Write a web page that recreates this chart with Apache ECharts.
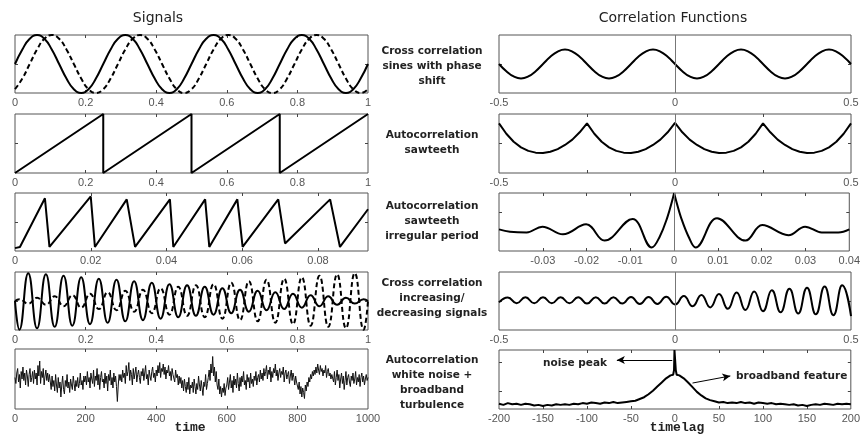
<!DOCTYPE html>
<html><head><meta charset="utf-8">
<script src="https://cdn.jsdelivr.net/npm/echarts@6/dist/echarts.min.js"></script>
<style>html,body{margin:0;padding:0;background:#fff}#c{width:863px;height:437px}</style>
</head><body><div id="c"></div>
<script>
// ---------- DATA ----------
// Row 1 left: sines with phase shift (x step 1/48 from 0 to 1)
const sineStep = 1 / 48;
const sineSolid = [0,0.5,0.87,1,0.87,0.5,0,-0.5,-0.87,-1,-0.87,-0.5,
  0,0.5,0.87,1,0.87,0.5,0,-0.5,-0.87,-1,-0.87,-0.5,
  0,0.5,0.87,1,0.87,0.5,0,-0.5,-0.87,-1,-0.87,-0.5,
  0,0.5,0.87,1,0.87,0.5,0,-0.5,-0.87,-1,-0.87,-0.5, 0];
const sineDashed = [-0.87,-0.5,0,0.5,0.87,1,0.87,0.5,0,-0.5,-0.87,-1,
  -0.87,-0.5,0,0.5,0.87,1,0.87,0.5,0,-0.5,-0.87,-1,
  -0.87,-0.5,0,0.5,0.87,1,0.87,0.5,0,-0.5,-0.87,-1,
  -0.87,-0.5,0,0.5,0.87,1,0.87,0.5,0,-0.5,-0.87,-1, -0.87];
// Row 1 right: cross correlation of the sines (lag step 1/48 from -0.5)
const ccSineStep = 1 / 48;
const ccSine = [0,-0.25,-0.43,-0.5,-0.43,-0.25,0,0.25,0.43,0.5,0.43,0.25,
  0,-0.25,-0.43,-0.5,-0.43,-0.25,0,0.25,0.43,0.5,0.43,0.25,
  0,-0.25,-0.43,-0.5,-0.43,-0.25,0,0.25,0.43,0.5,0.43,0.25,
  0,-0.25,-0.43,-0.5,-0.43,-0.25,0,0.25,0.43,0.5,0.43,0.25, 0];
// Row 2 left: sawteeth
const sawX = [0,0.25,0.25,0.5,0.5,0.75,0.75,1];
const sawY = [-1,1,-1,1,-1,1,-1,1];
// Row 2 right: autocorrelation of sawteeth (lag step 1/48 from -0.5)
const acSawStep = 1 / 48;
const acSaw = [0.68,0.33,0.06,-0.13,-0.25,-0.31,-0.32,-0.28,-0.19,-0.05,0.13,0.38,
  0.68,0.33,0.06,-0.13,-0.25,-0.31,-0.32,-0.28,-0.19,-0.05,0.13,0.38,
  0.70,0.38,0.13,-0.05,-0.19,-0.28,-0.32,-0.31,-0.25,-0.13,0.06,0.33,
  0.68,0.38,0.13,-0.05,-0.19,-0.28,-0.32,-0.31,-0.25,-0.13,0.06,0.33, 0.68];
// Row 3 left: sawteeth, irregular period
const irrX = [0,0.0013,0.0079,0.0091,0.0200,0.0211,0.0295,0.0317,0.0409,0.0418,0.0502,0.0513,0.0587,0.0601,0.0695,0.0713,0.0832,0.0858,0.0932];
const irrY = [0.05,0.07,0.91,0.07,0.94,0.07,0.89,0.07,0.89,0.07,0.89,0.07,0.89,0.07,0.89,0.13,0.89,0.07,0.72];
// Row 3 right: autocorrelation, irregular period (two halves meeting at the cusp)
const acIrrLeftX = [-0.04,-0.0375,-0.0337,-0.0301,-0.0254,-0.0201,-0.0159,-0.0095,-0.0051,-0.0033,-0.0015,-0.0005,0];
const acIrrLeftY = [0.06,0.0,-0.02,0.13,-0.07,0.19,-0.23,0.33,-0.41,-0.13,0.39,0.78,1.0];
const acIrrRightX = [0,0.0005,0.0015,0.0033,0.0049,0.0098,0.0163,0.0201,0.0261,0.0299,0.0337,0.0375,0.04];
const acIrrRightY = [1.0,0.78,0.39,-0.13,-0.41,0.35,-0.23,0.17,-0.09,0.13,-0.02,-0.02,0.06];
// Row 4 left: increasing / decreasing signals (extrema)
const incX = [0,0.0125,0.0375,0.0625,0.0875,0.1125,0.1375,0.1625,0.1875,0.2125,0.2375,0.2625,0.2875,0.3125,0.3375,0.3625,0.3875,0.4125,0.4375,0.4625,0.4875,0.5125,0.5375,0.5625,0.5875,0.6125,0.6375,0.6625,0.6875,0.7125,0.7375,0.7625,0.7875,0.8125,0.8375,0.8625,0.8875,0.9125,0.9375,0.9625,0.9875,1];
const decSolid = [0,-0.99,0.96,-0.94,0.92,-0.89,0.87,-0.85,0.82,-0.80,0.77,-0.75,0.73,-0.70,0.68,-0.66,0.63,-0.61,0.58,-0.56,0.54,-0.51,0.49,-0.47,0.44,-0.42,0.39,-0.37,0.35,-0.32,0.30,-0.28,0.25,-0.23,0.20,-0.18,0.16,-0.13,0.11,-0.09,0.06,0];
const incDashed = [0,0.06,-0.09,0.11,-0.13,0.16,-0.18,0.20,-0.23,0.25,-0.28,0.30,-0.32,0.35,-0.37,0.39,-0.42,0.44,-0.47,0.49,-0.51,0.54,-0.56,0.58,-0.61,0.63,-0.66,0.68,-0.70,0.73,-0.75,0.77,-0.80,0.82,-0.85,0.87,-0.89,0.92,-0.94,0.96,-0.99,0];
// Row 4 right: cross correlation (lag step 0.025 from -0.5)
const ccIncStep = 0.025;
const ccInc = [-0.05,0.12,-0.08,0.13,-0.08,0.13,-0.08,0.13,-0.08,0.13,-0.09,0.13,-0.09,0.13,-0.09,0.14,-0.10,0.14,-0.10,0.15,
  -0.12,0.17,-0.18,0.21,-0.22,0.24,-0.27,0.29,-0.31,0.33,-0.35,0.37,-0.39,0.42,-0.43,0.46,-0.46,0.50,-0.49,0.54,-0.52];
// Row 5 left: white noise + broadband turbulence (time step 2.5 from 0)
const noiseStep = 2.5;
const noiseSignal = [
  0.05,-0.15,0.2,0.35,-0.1,0.15,-0.3,0.25,0.0,0.4,-0.05,0.2,-0.2,0.3,0.1,-0.25,0.15,0.35,-0.1,0.05,0.25,-0.15,0.3,0.0,0.2,-0.2,0.45,0.1,0.6,-0.15,0.25,0.05,0.35,-0.2,0.1,0.3,-0.05,0.2,-0.1,0.15,
  -0.1,-0.35,0.1,-0.25,-0.05,-0.4,0.15,-0.2,-0.45,0.05,-0.3,-0.1,-0.6,-0.2,0.1,-0.35,-0.5,-0.05,-0.25,0.15,-0.3,-0.1,-0.45,0.0,-0.2,-0.35,0.1,-0.15,-0.4,-0.05,-0.25,0.05,-0.3,-0.15,0.2,-0.2,-0.05,-0.35,0.1,-0.1,
  0.1,-0.2,0.25,-0.1,0.05,-0.3,0.2,0.0,-0.15,0.3,-0.25,0.1,-0.05,0.35,-0.2,0.15,-0.35,0.05,0.25,-0.1,0.0,-0.3,0.2,-0.15,0.1,-0.4,0.15,-0.05,0.3,-0.2,0.05,-0.3,0.2,-0.1,0.1,-0.25,-0.75,-0.2,0.15,-0.05,
  0.15,-0.1,0.3,0.05,0.2,-0.15,0.45,0.1,0.25,0.55,-0.05,0.3,0.15,-0.2,0.35,0.0,0.2,0.4,-0.1,0.15,0.3,0.05,-0.15,0.25,0.1,0.35,-0.05,0.2,0.45,0.0,0.15,-0.2,0.3,0.1,-0.05,0.25,0.4,0.05,0.2,-0.1,
  0.3,0.1,0.45,0.2,0.55,0.05,0.35,0.25,0.5,0.15,0.4,0.0,0.3,0.2,0.45,0.1,0.25,-0.05,0.35,0.15,0.2,-0.1,0.3,0.05,0.15,-0.2,0.1,-0.15,0.05,-0.3,-0.05,-0.4,0.0,-0.25,-0.45,-0.1,-0.35,0.05,-0.5,-0.2,
  -0.3,-0.1,-0.45,0.0,-0.25,-0.5,-0.15,-0.35,0.1,-0.2,-0.4,-0.05,-0.3,-0.55,-0.1,-0.25,0.15,-0.35,-0.15,0.05,0.3,-0.05,0.5,0.2,0.75,0.1,0.4,-0.1,0.25,-0.2,-0.35,0.0,-0.5,-0.25,-0.6,-0.3,-0.45,-0.15,-0.55,-0.3,
  -0.2,0.05,-0.35,-0.1,0.15,-0.3,-0.05,-0.45,0.1,-0.2,0.0,-0.3,0.2,-0.15,-0.4,0.05,-0.25,0.1,-0.1,0.25,-0.2,-0.05,-0.35,0.15,-0.1,0.05,-0.3,0.2,-0.15,0.0,-0.25,0.1,-0.05,0.25,-0.2,0.05,0.15,-0.1,0.3,0.0,
  0.2,-0.05,0.35,0.1,0.25,0.45,0.0,0.3,0.15,0.4,-0.1,0.25,0.05,0.35,0.2,0.5,0.1,0.3,-0.05,0.2,0.35,0.05,0.25,0.15,0.4,-0.1,0.2,0.3,0.0,0.15,0.25,-0.15,0.1,0.3,-0.05,0.2,0.05,-0.2,0.1,-0.1,
  -0.15,-0.35,-0.1,-0.5,-0.25,-0.6,-0.3,-0.45,-0.65,-0.2,-0.4,-0.1,-0.25,0.05,-0.1,0.15,0.0,0.25,0.1,0.3,0.15,0.4,0.2,0.5,0.3,0.15,0.45,0.25,0.35,0.1,0.3,0.2,0.45,0.05,0.25,0.35,0.1,0.2,0.0,0.15,
  0.1,-0.1,0.25,-0.2,0.05,0.3,-0.05,0.15,-0.3,0.0,0.2,-0.15,0.1,-0.35,-0.05,0.25,-0.2,0.05,0.15,-0.1,-0.25,0.1,-0.05,0.2,-0.15,0.0,0.25,-0.2,0.05,-0.1,0.15,-0.25,0.05,0.2,-0.1,0.1,-0.2,0.0,0.15,-0.05,0.05];
// Row 5 right: autocorrelation of the noise
const lagX = [-200,-195,-190,-185,-180,-175,-170,-165,-160,-155,-150,-145,-140,-135,-130,-125,-120,-115,-110,-105,-100,-95,-90,-85,-80,-75,-70,-65,-60,-55,-50,-45,-40,-35,-30,-25,-20,-15,-10,-5,-2,-1,-0.5,0,0.5,1,2,5,10,15,20,25,30,35,40,45,50,55,60,65,70,75,80,85,90,95,100,105,110,115,120,125,130,135,140,145,150,155,160,165,170,175,180,185,190,195,200];
const lagY = [0.09,0.07,0.10,0.08,0.09,0.07,0.09,0.08,0.06,0.07,0.05,0.07,0.06,0.08,0.07,0.08,0.07,0.09,0.08,0.10,0.09,0.11,0.10,0.09,0.11,0.10,0.12,0.10,0.11,0.12,0.13,0.14,0.17,0.20,0.25,0.31,0.38,0.45,0.52,0.57,0.58,0.66,1.0,1.0,1.0,0.66,0.58,0.57,0.52,0.45,0.37,0.29,0.23,0.18,0.15,0.13,0.11,0.12,0.10,0.11,0.10,0.12,0.10,0.11,0.09,0.11,0.10,0.09,0.10,0.08,0.09,0.08,0.07,0.08,0.06,0.07,0.05,0.07,0.08,0.07,0.09,0.08,0.07,0.09,0.08,0.09,0.08];

// Tick labels
const ticks01 = [0,0.2,0.4,0.6,0.8,1];
const ticksHalf = [-0.5,0,0.5];
const ticksQuarter = [-0.25,0.25];
const ticksIrr = [0,0.02,0.04,0.06,0.08];
const ticksIrrLagLabels = [-0.03,-0.02,-0.01,0,0.01,0.02,0.03,0.04];
const ticksIrrLag = [-0.03,-0.02,-0.01,0,0.01,0.02,0.03];
const ticksTime = [0,200,400,600,800,1000];
const ticksLag = [-200,-150,-100,-50,0,50,100,150,200];

// Text
const titleLeft = 'Signals';
const titleRight = 'Correlation Functions';
const rowLabels = [
  ['Cross correlation','sines with phase','shift'],
  ['Autocorrelation','sawteeth'],
  ['Autocorrelation','sawteeth','irregular period'],
  ['Cross correlation','increasing/','decreasing signals'],
  ['Autocorrelation','white noise +','broadband','turbulence']
];
const xNameLeft = 'time';
const xNameRight = 'timelag';
const annNoise = 'noise peak';
const annBroad = 'broadband feature';

// ---------- LAYOUT ----------
const leftRect = {left:15, width:353};
const rightRect = {left:499, width:352};
const rowBoxes = [
  {top:35, height:58}, {top:114, height:59}, {top:193, height:58}, {top:272, height:58}, {top:349, height:60}
];
const rowBoxesR = [
  {top:35, height:58}, {top:114, height:59}, {top:193, height:58}, {top:272, height:58}, {top:350, height:59}
];
const rowLabelY = [[51.5,66.5,81.5],[135,150],[206.5,221.5,236.5],[283,298,313],[360,375,390,405]];

const grids = [], xAxes = [], yAxes = [], series = [];
const tickStyle = {color:'#444', width:1};
function addPanel(rect, box, xr, xLabelVals, xTickVals, yr, yTickVals) {
  const g = grids.length;
  grids.push({left:rect.left, width:rect.width, top:box.top, height:box.height, show:true,
    borderColor:'#555', borderWidth:1, backgroundColor:'#fff'});
  const bx = {type:'value', gridIndex:g, min:xr[0], max:xr[1], splitLine:{show:false}, axisLine:{show:false, onZero:false}};
  const tick = vals => vals.length ? {show:true, inside:true, length:3, customValues:vals, lineStyle:tickStyle} : {show:false};
  xAxes.push(Object.assign({}, bx, {position:'bottom',
    axisLabel:{show:true, customValues:xLabelVals, margin:4, color:'#555', fontSize:11,
      fontFamily:'Liberation Sans, Arial, sans-serif', formatter: v => String(v)},
    axisTick: tick(xTickVals)}));
  xAxes.push(Object.assign({}, bx, {position:'top', axisLabel:{show:false}, axisTick: tick(xTickVals)}));
  const by = {type:'value', gridIndex:g, min:yr[0], max:yr[1], splitLine:{show:false}, axisLine:{show:false, onZero:false}, axisLabel:{show:false}};
  yAxes.push(Object.assign({}, by, {position:'left', axisTick: tick(yTickVals)}));
  yAxes.push(Object.assign({}, by, {position:'right', axisTick: tick(yTickVals)}));
  return g;
}
function line(g, data, opts) {
  const s = Object.assign({type:'line', xAxisIndex:2*g, yAxisIndex:2*g, data:data, symbol:'none', showSymbol:false,
    silent:true, animation:false, lineStyle:{color:'#000', width:2}}, opts || {});
  series.push(s);
  return s;
}
const zeroLine = {silent:true, symbol:'none', animation:false, label:{show:false},
  lineStyle:{color:'#777', width:1, type:'solid'}, data:[{xAxis:0}]};
const stepPairs = (start, step, ys) => ys.map((y, i) => [start + i * step, y]);
const zipPairs = (xs, ys) => xs.map((x, i) => [x, ys[i]]);

// Left column
let g;
g = addPanel(leftRect, rowBoxes[0], [0,1], ticks01, ticks01.slice(1,5), [-1,1], [0]);
line(g, stepPairs(0, sineStep, sineSolid), {smooth:0.5});
line(g, stepPairs(0, sineStep, sineDashed), {smooth:0.5, lineStyle:{color:'#000', width:2, type:[5,3]}});

g = addPanel(leftRect, rowBoxes[1], [0,1], ticks01, ticks01.slice(1,5), [-1,1], [0]);
line(g, zipPairs(sawX, sawY), {clip:false});

g = addPanel(leftRect, rowBoxes[2], [0,0.0932], ticksIrr, ticksIrr.slice(1), [0,1], [0.5]);
line(g, zipPairs(irrX, irrY));

g = addPanel(leftRect, rowBoxes[3], [0,1], ticks01, ticks01.slice(1,5), [-1,1], [0]);
line(g, zipPairs(incX, decSolid), {smooth:0.5});
line(g, zipPairs(incX, incDashed), {smooth:0.5, lineStyle:{color:'#000', width:2, type:[5,3]}});

g = addPanel(leftRect, rowBoxes[4], [0,1000], ticksTime, ticksTime.slice(1,5), [-1,1], []);
line(g, stepPairs(0, noiseStep, noiseSignal), {lineStyle:{color:'#111', width:1}});

// Right column
g = addPanel(rightRect, rowBoxesR[0], [-0.5,0.5], ticksHalf, [], [-1,1], [0]);
line(g, stepPairs(-0.5, ccSineStep, ccSine), {smooth:0.5, markLine:zeroLine});

g = addPanel(rightRect, rowBoxesR[1], [-0.5,0.5], ticksHalf, ticksQuarter, [-1,1], [0]);
line(g, stepPairs(-0.5, acSawStep, acSaw), {markLine:zeroLine});

g = addPanel(rightRect, rowBoxesR[2], [-0.04,0.04], ticksIrrLagLabels, ticksIrrLag, [-0.5,1], [0.5]);
line(g, zipPairs(acIrrLeftX, acIrrLeftY), {smooth:0.4, markLine:zeroLine});
line(g, zipPairs(acIrrRightX, acIrrRightY), {smooth:0.4});

g = addPanel(rightRect, rowBoxesR[3], [-0.5,0.5], ticksHalf, [], [-1,1], [0]);
line(g, stepPairs(-0.5, ccIncStep, ccInc), {smooth:0.5, markLine:zeroLine});

g = addPanel(rightRect, rowBoxesR[4], [-200,200], ticksLag, [-150,-100,-50,50,100,150], [0,1], [0.3,0.8]);
line(g, zipPairs(lagX, lagY), {
  markLine:{silent:true, animation:false, symbol:['none','arrow'], symbolSize:[6,8], label:{show:false},
    lineStyle:{color:'#000', width:1, type:'solid'},
    data:[
      [{coord:[-3,0.83]},{coord:[-66,0.83]}],
      [{coord:[20,0.44]},{coord:[63,0.56]}]
    ]}
});

// Texts
const graphics = [];
function txt(x, y, s, font, align, color) {
  graphics.push({type:'text', x:x, y:y, silent:true,
    style:{text:s, font:font, fill:color || '#222', align:align || 'center', verticalAlign:'middle',
      textAlign:align || 'center', textVerticalAlign:'middle'}});
}
txt(158, 18, titleLeft, '14px "DejaVu Sans", sans-serif');
txt(673, 18, titleRight, '14px "DejaVu Sans", sans-serif');
const midFont = 'bold 10.5px "DejaVu Sans", sans-serif';
rowLabels.forEach((lines, r) => lines.forEach((s, i) => txt(432, rowLabelY[r][i], s, midFont)));
txt(190, 428, xNameLeft, 'bold 13px "Liberation Mono", monospace');
txt(677, 428, xNameRight, 'bold 13px "Liberation Mono", monospace');
txt(607, 363, annNoise, midFont, 'right');
txt(736, 376, annBroad, midFont, 'left');

const chart = echarts.init(document.getElementById('c'), null, {renderer:'canvas'});
chart.setOption({
  animation:false,
  backgroundColor:'#fff',
  grid:grids, xAxis:xAxes, yAxis:yAxes, series:series, graphic:graphics
});
</script></body></html>
